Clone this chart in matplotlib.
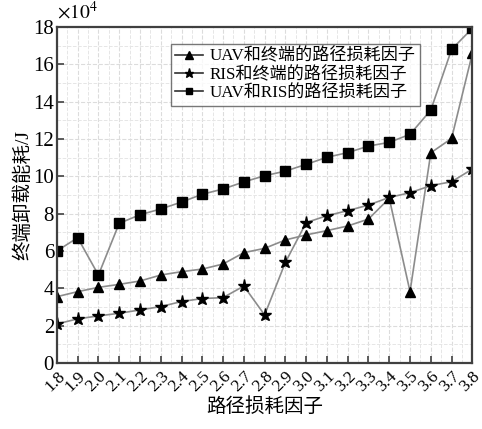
import matplotlib.pyplot as plt
import numpy as np

plt.rcParams['font.family'] = ['Liberation Serif', 'Noto Sans CJK SC']
plt.rcParams['mathtext.fontset'] = 'stix'

# 路径损耗因子
factors = [1.8, 1.9, 2.0, 2.1, 2.2, 2.3, 2.4, 2.5, 2.6, 2.7,
           2.8, 2.9, 3.0, 3.1, 3.2, 3.3, 3.4, 3.5, 3.6, 3.7, 3.8]
tick_labels = ['%.1f' % f for f in factors]

# 终端卸载能耗 (×10^4 J)
uav_term = [3.55, 3.82, 4.05, 4.21, 4.39, 4.71, 4.89, 5.03, 5.30, 5.91,
            6.14, 6.59, 6.86, 7.09, 7.34, 7.71, 8.82, 3.82, 11.26, 12.03, 16.59]
ris_term = [2.09, 2.36, 2.52, 2.66, 2.84, 3.02, 3.29, 3.45, 3.50, 4.12,
            2.57, 5.39, 7.52, 7.89, 8.16, 8.46, 8.87, 9.12, 9.50, 9.71, 10.39]
uav_ris = [6.00, 6.71, 4.71, 7.48, 7.94, 8.25, 8.62, 9.04, 9.32, 9.70,
           10.03, 10.28, 10.64, 11.02, 11.27, 11.62, 11.82, 12.25, 13.55, 16.80, 17.93]

fig = plt.figure(figsize=(4.82, 4.29), dpi=100)
ax = fig.add_axes([0.118, 0.154, 0.862, 0.783])

line_kw = dict(color='#8c8c8c', lw=1.2, markerfacecolor='black',
               markeredgecolor='black')
ax.plot(factors, uav_term, marker='^', ms=7.5, label='UAV和终端的路径损耗因子', **line_kw)
ax.plot(factors, ris_term, marker='*', ms=9.5, label='RIS和终端的路径损耗因子', **line_kw)
ax.plot(factors, uav_ris, marker='s', ms=6.5, label='UAV和RIS的路径损耗因子', **line_kw)

ax.set_xlim(1.8, 3.8)
ax.set_ylim(0, 18)
ax.set_xticks(factors)
ax.set_xticklabels(tick_labels, rotation=45, ha='right', rotation_mode='anchor',
                   fontsize=12.5)
ax.set_yticks(np.arange(0, 19, 2))
ax.tick_params(axis='y', labelsize=15, pad=2)
ax.tick_params(axis='x', pad=4)
ax.set_xticks(np.arange(1.85, 3.8, 0.1), minor=True)
ax.set_yticks(np.arange(1, 18, 2), minor=True)
ax.tick_params(which='minor', length=0)
ax.tick_params(which='major', length=5, width=1.2, direction='in',
               color='#404040')

ax.grid(True, which='major', color='#dcdcdc', ls='--', lw=0.8)
ax.grid(True, which='minor', color='#e6e6e6', ls='--', lw=0.7)
ax.set_axisbelow(True)

for sp in ax.spines.values():
    sp.set_color('#404040')
    sp.set_linewidth(1.6)

ax.set_xlabel('路径损耗因子', fontsize=14, labelpad=1)
ax.set_ylabel('终端卸载能耗/J', fontsize=14, labelpad=1)
ax.text(0.0, 1.012, r'$\times10^4$', transform=ax.transAxes, fontsize=14,
        ha='left', va='bottom')

leg = ax.legend(loc='upper left', bbox_to_anchor=(0.275, 0.95), fontsize=12.3,
                frameon=True, fancybox=False, handlelength=1.6, markerscale=0.7,
                borderpad=0.25, labelspacing=0.12, handletextpad=0.4,
                borderaxespad=0)
leg.get_frame().set_edgecolor('#555555')
leg.get_frame().set_linewidth(1.0)
for h in leg.legend_handles:
    h.set_color('#303030')
    h.set_markerfacecolor('black')
    h.set_markeredgecolor('black')

fig.savefig('out.png', dpi=100)
